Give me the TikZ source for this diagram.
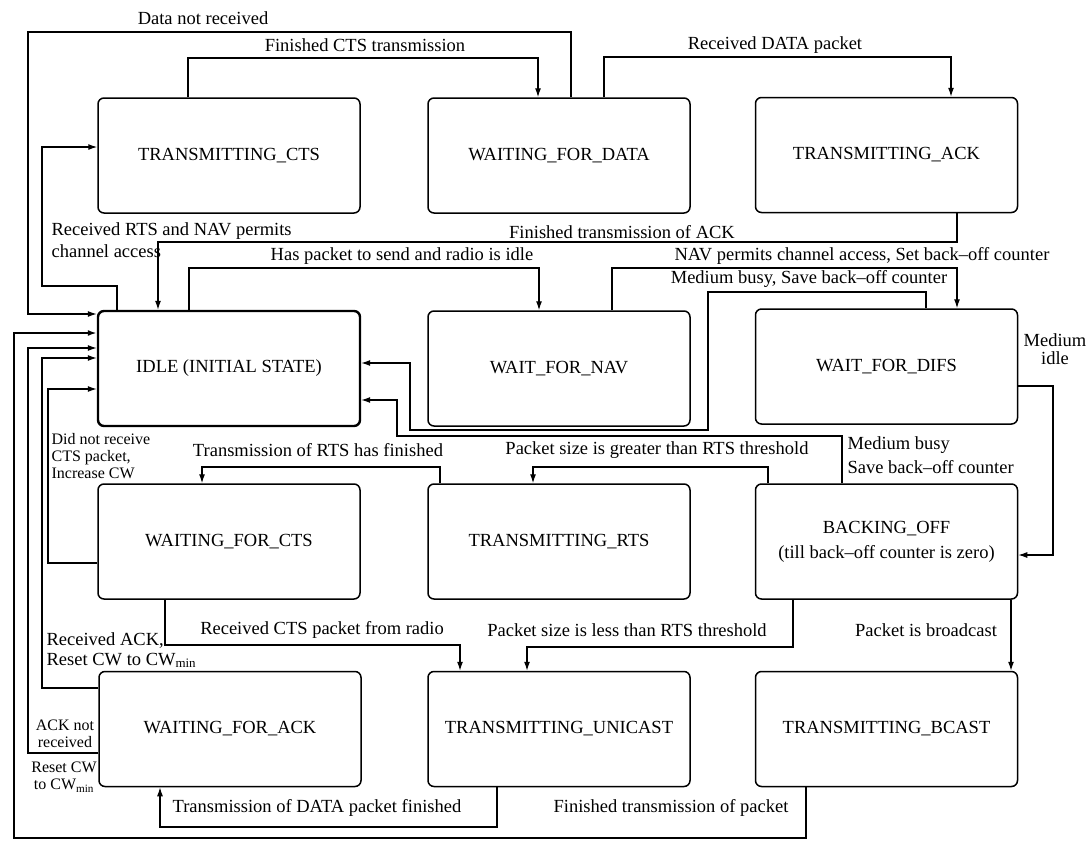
\documentclass[tikz,border=0pt]{standalone}
\usepackage{fontspec}
\setmainfont{Liberation Serif}
\usetikzlibrary{arrows.meta}
\usetikzlibrary{positioning}

\begin{document}
\begin{tikzpicture}[
    x=1pt, y=-1pt,
    line width=1.2pt,
    font=\fontsize{18.5}{22}\selectfont
]
\tikzset{
    mystate/.style = {rectangle, rounded corners=6pt, draw=black, line width=1.5pt, minimum width=262pt, minimum height=115pt, align=center, inner sep=0pt},
    mystateb/.style = {mystate, line width=2.4pt},
    edger/.style = {-{Latex[length=9pt,width=6pt]}},
    lbl/.style = {inner sep=0pt},
    lbls/.style = {inner sep=0pt, font=\fontsize{16}{17}\selectfont}
}
\useasboundingbox (0,0) rectangle (1090,841);
% states
\node[mystate] at (229,155.5) (tcts) {TRANSMITTING\_CTS};
\node[mystate] at (559,155.5) (wfd) {WAITING\_FOR\_DATA};
\node[mystate] at (886.5,155) (tack) {TRANSMITTING\_ACK};
\node[mystateb] at (229,368.5) (idle) {IDLE (INITIAL STATE)};
\node[mystate] at (559,368.5) (wnav) {WAIT\_FOR\_NAV};
\node[mystate] at (886.5,366.5) (wdifs) {WAIT\_FOR\_DIFS};
\node[mystate] at (229,541.5) (wcts) {WAITING\_FOR\_CTS};
\node[mystate] at (559,541.5) (trts) {TRANSMITTING\_RTS};
\node[mystate] at (886.5,541.5) (boff) {BACKING\_OFF\\[3pt](till back--off counter is zero)};
\node[mystate] at (230,729) (wack) {WAITING\_FOR\_ACK};
\node[mystate] at (559,729) (tuni) {TRANSMITTING\_UNICAST};
\node[mystate] at (886.5,729) (tbcast) {TRANSMITTING\_BCAST};
% transitions
\draw[edger] (188,0 |- tcts.north) |- (538,58) -- (538,0 |- wfd.north);
\draw[edger] (571,0 |- wfd.north) |- (28,32) |- (idle.west |- 0,314);
\draw[edger] (604,0 |- wfd.north) |- (951,57) -- (951,0 |- tack.north);
\draw[edger] (957,0 |- tack.south) |- (158,242) -- (158,0 |- idle.north);
\draw[edger] (117,0 |- idle.north) |- (42,286) |- (tcts.west |- 0,147);
\draw[edger] (189,0 |- idle.north) |- (539,268) -- (539,0 |- wnav.north);
\draw[edger] (612,0 |- wnav.north) |- (957,268) -- (957,0 |- wdifs.north);
\draw[edger] (926,0 |- wdifs.north) |- (708,292) |- (410,430) |- (idle.east |- 0,363);
\draw[edger] (wdifs.east |- 0,386) -| (1053,555) -- (boff.east |- 0,555);
\draw[edger] (842,0 |- boff.north) |- (397,436) |- (idle.east |- 0,400);
\draw[edger] (440,0 |- trts.north) |- (202,467) -- (202,0 |- wcts.north);
\draw[edger] (768,0 |- boff.north) |- (533,467) -- (533,0 |- trts.north);
\draw[edger] (wcts.west |- 0,563) -| (48,389) -- (idle.west |- 0,389);
\draw[edger] (165,0 |- wcts.south) |- (460,645) -- (460,0 |- tuni.north);
\draw[edger] (793,0 |- boff.south) |- (527,647) -- (527,0 |- tuni.north);
\draw[edger] (1011,0 |- boff.south) -- (1011,0 |- tbcast.north);
\draw[edger] (wack.west |- 0,688) -| (42,358) -- (idle.west |- 0,358);
\draw[edger] (wack.west |- 0,753) -| (28,348) -- (idle.west |- 0,348);
\draw[edger] (497,0 |- tuni.south) |- (160,827) -- (160,0 |- wack.south);
\draw[edger, line width=2.4pt] (806,0 |- tbcast.south) |- (14,838) |- (idle.west |- 0,333);
% labels
\node[lbl] (l1) at (203,18) {Data not received};
\node[lbl] (l2) at (365,45) {Finished CTS transmission};
\node[lbl] (l3) at (775,45) {Received DATA packet};
\node[lbl, align=left, anchor=west] (l4) at (51,240) {Received RTS and NAV permits\\channel access};
\node[lbl] (l5) at (622,232) {Finished transmission of ACK};
\node[lbl] (l6) at (402,256) {Has packet to send and radio is idle};
\node[lbl] (l7) at (862,256) {NAV permits channel access, Set back--off counter};
\node[lbl] (l8) at (809,279) {Medium busy, Save back--off counter};
\node[lbl, align=center, font=\fontsize{18.5}{18}\selectfont] (l9) at (1055,349) {Medium\\idle};
\node[lbl, align=left, anchor=west, font=\fontsize{18.5}{24}\selectfont] (l10) at (847,455) {Medium busy\\Save back--off counter};
\node[lbl] (l11) at (318,450) {Transmission of RTS has finished};
\node[lbl] (l12) at (657,450) {Packet size is greater than RTS threshold};
\node[lbls, align=left, anchor=west] (l13) at (51,456) {Did not receive\\CTS packet,\\Increase CW};
\node[lbl] (l14) at (322,630) {Received CTS packet from radio};
\node[lbl] (l15) at (627,630) {Packet size is less than RTS threshold};
\node[lbl] (l16) at (926,630) {Packet is broadcast};
\node[lbl, align=left, anchor=west, font=\fontsize{18.5}{20}\selectfont] (l17) at (46,650) {Received ACK,\\Reset CW to CW\textsubscript{min}};
\node[lbls, align=center] (l18) at (65,734) {ACK not\\received};
\node[lbls, align=center] (l19) at (64,777) {Reset CW\\to CW\textsubscript{min}};
\node[lbl] (l20) at (317,808) {Transmission of DATA packet finished};
\node[lbl] (l21) at (671,808) {Finished transmission of packet};
\end{tikzpicture}
\end{document}
